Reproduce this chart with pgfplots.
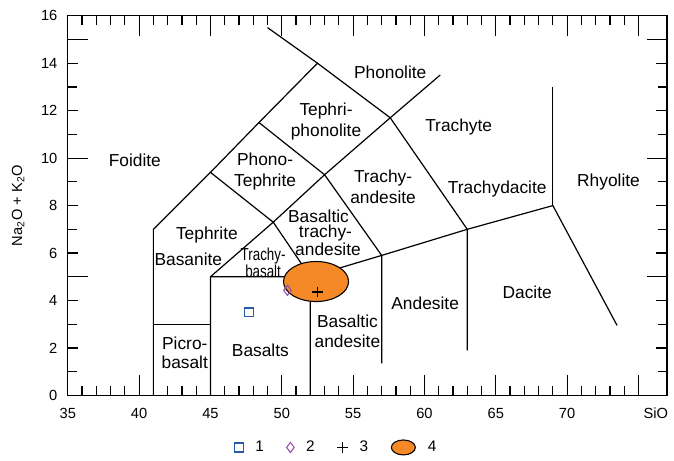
\documentclass[border=0pt]{standalone}
\usepackage{graphicx}
\usepackage{pgfplots}
\pgfplotsset{compat=1.18}
\usepackage{fontspec}
\setmainfont{Liberation Sans}

\definecolor{fillorange}{RGB}{245,137,40}
\definecolor{sqblue}{RGB}{40,90,175}
\definecolor{dmpurple}{RGB}{150,80,175}

\newcommand{\lab}{\fontsize{13}{15.5}\selectfont}

\begin{document}
\begin{tikzpicture}
\begin{axis}[
  scale only axis, width=449pt, height=284.5pt,
  xmin=35, xmax=77, ymin=0, ymax=16,
  clip=false,
  axis line style={line width=1pt},
  major tick length=15pt, minor tick length=7pt,
  every tick/.style={black, line width=0.9pt},
  xtick={35,40,...,75},
  xticklabels={35,40,45,50,55,60,65,70,},
  minor x tick num=4,
  ytick={5,10,15},
  yticklabels={,,},
  minor ytick={0,...,16},
  extra y ticks={0,2,...,16},
  extra y tick labels={0,2,4,6,8,10,12,14,16},
  extra y tick style={major tick length=8pt},
  /pgf/number format/assume math mode=true,
  ticklabel style={font=\fontsize{11}{13}\selectfont},
  xticklabel style={yshift=-6pt},
  yticklabel style={xshift=-4.3pt},
  ylabel={Na\textsubscript{2}O + K\textsubscript{2}O},
  ylabel style={at={(axis description cs:-0.083,0.5)}, anchor=center, font=\fontsize{11}{13}\selectfont},
  legend columns=4,
  legend style={draw=none, fill=none, at={(0.449,-0.137)}, anchor=center,
    font=\fontsize{11.5}{13}\selectfont,
    /tikz/every odd column/.append style={column sep=7pt},
    /tikz/every even column/.append style={column sep=15pt}},
]
% field boundaries
\addplot[black, line width=0.9pt, forget plot] coordinates {(41,0) (41,7) (45,9.4) (48.4,11.5) (52.5,14) (57.6,11.7) (63,7) (63,1.9)};
\addplot[black, line width=0.9pt, forget plot] coordinates {(49,15.5) (52.5,14)};
\addplot[black, line width=0.9pt, forget plot] coordinates {(41,3) (45,3)};
\addplot[black, line width=0.9pt, forget plot] coordinates {(45,0) (45,5) (49.4,7.3) (53,9.3) (57,5.9) (57,1.35)};
\addplot[black, line width=0.9pt, forget plot] coordinates {(45,9.4) (49.4,7.3) (52,5) (52,0)};
\addplot[black, line width=0.9pt, forget plot] coordinates {(45,5) (52,5) (57,5.9) (63,7) (69,8) (73.5,2.95)};
\addplot[black, line width=0.9pt, forget plot] coordinates {(48.4,11.5) (53,9.3) (57.6,11.7) (61.1,13.5)};
\addplot[black, line width=0.9pt, forget plot] coordinates {(69,8) (69,13)};

% field 4
\addplot[only marks, mark=*, mark size=15pt, forget plot,
  mark options={xscale=1.625, fill=fillorange, draw=black, line width=0.8pt}]
  coordinates {(52.4,4.8)};

\addplot[only marks, mark=square, mark size=3.3pt, sqblue, mark options={line width=1pt}] coordinates {(47.7,3.5)};
\addlegendentry{1}
\addplot[only marks, mark=diamond, mark size=3.8pt, dmpurple, mark options={line width=0.8pt}] coordinates {(50.4,4.43)};
\addlegendentry{2}
\addplot[only marks, mark=+, mark size=3.8pt, black, mark options={line width=1.3pt}] coordinates {(52.5,4.36)};
\addlegendentry{3}
\addlegendimage{legend image code/.code={\draw[fill=fillorange, draw=black, line width=0.8pt] (0.3cm,0cm) ellipse [x radius=9pt, y radius=5.6pt];}}
\addlegendentry{4}

% field names
\begin{scope}[every node/.style={inner sep=0pt}]
\node[font=\lab] at (axis cs:39.7,9.9) {Foidite};
\node[font=\lab] at (axis cs:57.6,13.6) {Phonolite};
\node[font=\lab, align=center] at (axis cs:53.1,11.55) {Tephri-\\phonolite};
\node[font=\lab, align=center] at (axis cs:48.83,9.45) {Phono-\\Tephrite};
\node[font=\lab, align=center] at (axis cs:57.1,8.8) {Trachy-\\andesite};
\node[font=\lab] at (axis cs:62.4,11.3) {Trachyte};
\node[font=\lab] at (axis cs:65.1,8.7) {Trachydacite};
\node[font=\lab] at (axis cs:72.9,9.0) {Rhyolite};
\node[font=\lab] at (axis cs:44.75,6.78) {Tephrite};
\node[font=\lab] at (axis cs:43.45,5.73) {Basanite};
\node at (axis cs:48.69,5.51) {\scalebox{0.77}[1]{\fontsize{13}{9.5}\selectfont\begin{tabular}{@{}c@{}}Trachy-\\basalt\end{tabular}}};
\node[font=\fontsize{13}{11.3}\selectfont, align=center] at (axis cs:53.24,6.85) {\hspace*{-14.2pt}Basaltic\\\hspace*{-3.8pt}trachy-\\andesite};
\node[font=\fontsize{13}{14.3}\selectfont, align=center] at (axis cs:43.2,1.81) {Picro-\\basalt};
\node[font=\lab] at (axis cs:48.5,1.9) {Basalts};
\node[font=\lab, align=center] at (axis cs:54.6,2.7) {Basaltic\\andesite};
\node[font=\lab] at (axis cs:60.05,3.9) {Andesite};
\node[font=\lab] at (axis cs:67.2,4.35) {Dacite};
\end{scope}
\node[font=\fontsize{11}{13}\selectfont, anchor=east, xshift=4.3pt, yshift=-13.5pt] at (rel axis cs:1,0) {SiO};
\end{axis}
\pgfresetboundingbox
\path (-50.8pt,-48.75pt) rectangle (454.25pt,296.3pt);
\end{tikzpicture}
\end{document}
